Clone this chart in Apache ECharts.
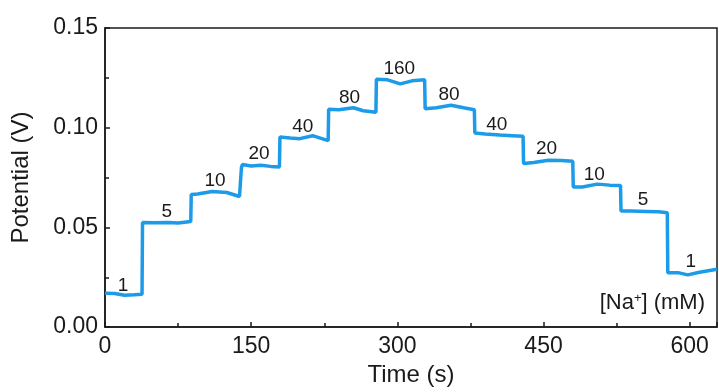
<!DOCTYPE html>
<html>
<head>
<meta charset="utf-8">
<script src="https://cdn.jsdelivr.net/npm/echarts@6.0.0/dist/echarts.min.js"></script>
<style>
  html, body { margin: 0; padding: 0; background: #fff; }
  #chart { width: 719px; height: 392px; }
</style>
</head>
<body>
<div id="chart"></div>
<script>
// Trace: time (s) and potential (V)
const timePoints = [
  0, 10, 20, 30, 38,
  38.5, 50, 65, 75, 88,
  88.5, 95, 110, 125, 138, 139.5,
  140, 141, 150, 160, 170, 179,
  179.5, 190, 200, 213, 229,
  229.5, 240, 255, 265, 278,
  278.5, 290, 303, 315, 328,
  328.5, 340, 355, 368, 379,
  379.5, 390, 405, 418, 429,
  429.5, 440, 455, 468, 480,
  480.5, 490, 505, 518, 529,
  529.5, 540, 555, 568, 577,
  577.5, 588, 598, 610, 628
];
const potentialPoints = [
  0.0170, 0.0168, 0.0160, 0.0162, 0.0165,
  0.0525, 0.0523, 0.0525, 0.0522, 0.0530,
  0.0665, 0.0668, 0.0680, 0.0675, 0.0655, 0.0660,
  0.0800, 0.0815, 0.0808, 0.0812, 0.0806, 0.0803,
  0.0953, 0.0948, 0.0945, 0.0960, 0.0935,
  0.1093, 0.1090, 0.1100, 0.1085, 0.1077,
  0.1243, 0.1240, 0.1220, 0.1235, 0.1240,
  0.1095, 0.1100, 0.1113, 0.1100, 0.1090,
  0.0973, 0.0968, 0.0963, 0.0960, 0.0957,
  0.0820, 0.0825, 0.0837, 0.0835, 0.0832,
  0.0703, 0.0703, 0.0717, 0.0712, 0.0710,
  0.0582, 0.0582, 0.0580, 0.0578, 0.0573,
  0.0273, 0.0273, 0.0262, 0.0275, 0.0290
];

// Concentration labels (mM) and where they sit
const labelTexts = ['1', '5', '10', '20', '40', '80', '160', '80', '40', '20', '10', '5', '1'];
const labelTimes = [18.5, 63.5, 113, 158, 203, 251, 302, 353, 402, 453, 502, 552, 601];
const labelPotentials = [0.0205, 0.058, 0.0735, 0.087, 0.1005, 0.115, 0.1295, 0.1165, 0.1015, 0.0895, 0.0765, 0.064, 0.033];

const xTicks = [0, 150, 300, 450, 600];
const yTicks = [0, 0.05, 0.10, 0.15];

const font = 'Liberation Sans, Arial, sans-serif';
const ink = '#1a1a1a';
const chart = echarts.init(document.getElementById('chart'));

const option = {
  backgroundColor: '#ffffff',
  animation: false,
  grid: {
    left: 105, right: 2, top: 28, bottom: 64,
    show: true, borderColor: ink, borderWidth: 1.5
  },
  xAxis: {
    type: 'value',
    min: 0, max: 628, interval: 150,
    name: 'Time (s)',
    nameLocation: 'middle', nameGap: 34,
    nameTextStyle: { fontFamily: font, fontSize: 24, color: ink },
    axisLine: { lineStyle: { color: ink, width: 1.5 } },
    axisTick: { inside: true, length: 5, lineStyle: { color: ink, width: 1.5 } },
    minorTick: { show: true, splitNumber: 2, length: 4, lineStyle: { color: ink, width: 1.5 } },
    splitLine: { show: false },
    axisLabel: {
      margin: 8, fontFamily: font, fontSize: 23, color: ink,
      showMaxLabel: false,
      formatter: v => xTicks.includes(v) ? String(v) : ''
    }
  },
  yAxis: {
    type: 'value',
    min: 0, max: 0.15, interval: 0.05,
    name: 'Potential (V)',
    nameLocation: 'middle', nameGap: 72, nameRotate: 90,
    nameTextStyle: { fontFamily: font, fontSize: 24, color: ink },
    axisLine: { show: true, lineStyle: { color: ink, width: 1.5 } },
    axisTick: { show: true, inside: true, length: 5, lineStyle: { color: ink, width: 1.5 } },
    minorTick: { show: true, splitNumber: 2, length: 4, lineStyle: { color: ink, width: 1.5 } },
    splitLine: { show: false },
    axisLabel: {
      margin: 7, fontFamily: font, fontSize: 23, color: ink,
      formatter: v => yTicks.some(t => Math.abs(t - v) < 1e-9) ? v.toFixed(2) : ''
    }
  },
  series: [
    {
      type: 'line',
      data: timePoints.map((t, i) => [t, potentialPoints[i]]),
      showSymbol: false,
      lineStyle: { color: '#1c9be8', width: 3.5 },
      z: 3
    },
    {
      type: 'scatter',
      data: labelTimes.map((t, i) => [t, labelPotentials[i], labelTexts[i]]),
      symbolSize: 0,
      itemStyle: { opacity: 1 },
      label: {
        show: true, position: 'inside',
        formatter: p => p.data[2],
        fontFamily: font, fontSize: 19, color: ink,
        textBorderWidth: 0
      },
      z: 4
    }
  ],
  graphic: [
    {
      type: 'text',
      right: 14, top: 292,
      style: {
        text: '[Na{sup|+}] (mM)',
        fontFamily: font, fontSize: 22, fill: ink,
        rich: { sup: { fontSize: 13, verticalAlign: 'top', fill: ink, fontFamily: font, padding: [0, 0, 8, 0] } }
      }
    }
  ]
};

chart.setOption(option);
</script>
</body>
</html>
